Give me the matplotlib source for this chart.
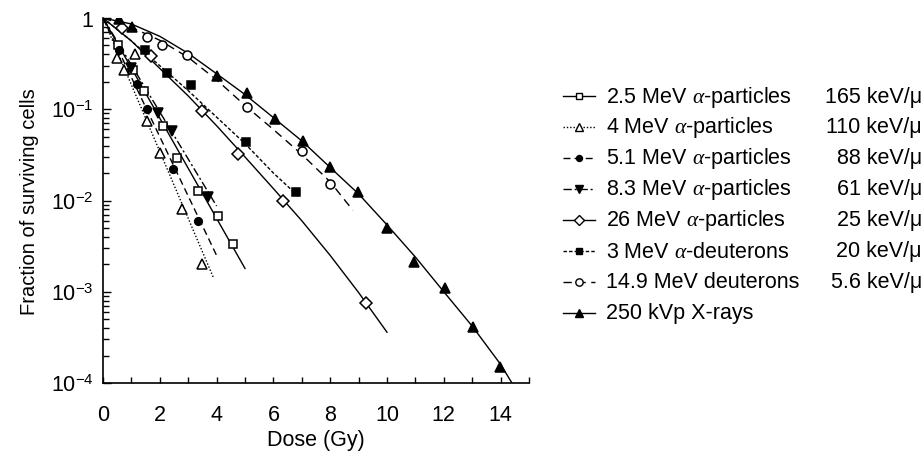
import matplotlib
matplotlib.use("Agg")
import matplotlib.pyplot as plt
from matplotlib.ticker import FixedLocator, FixedFormatter, MultipleLocator, LogLocator, NullFormatter

plt.rcParams['font.family'] = ['Liberation Sans', 'DejaVu Sans']
plt.rcParams['mathtext.fontset'] = 'custom'
plt.rcParams['mathtext.rm'] = 'Liberation Sans'
plt.rcParams['mathtext.it'] = 'Liberation Serif:italic'
plt.rcParams['mathtext.bf'] = 'Liberation Sans:bold'

# measured points (dose in Gy, surviving fraction)
a25_dose = [0.54, 1.05, 1.44, 2.1, 2.6, 3.35, 4.05, 4.58]
a25_surv = [0.5, 0.27, 0.158, 0.066, 0.029, 0.0126, 0.0068, 0.0033]
a4_dose = [0.49, 0.74, 1.13, 1.54, 2.0, 2.77, 3.5]
a4_surv = [0.36, 0.27, 0.4, 0.074, 0.033, 0.0081, 0.002]
a51_dose = [0.55, 1.2, 1.55, 2.47, 3.35]
a51_surv = [0.45, 0.19, 0.1, 0.022, 0.006]
a83_dose = [1.0, 1.93, 2.43, 3.7]
a83_surv = [0.28, 0.09, 0.058, 0.011]
a26_dose = [0.67, 1.68, 3.48, 4.77, 6.35, 9.27]
a26_surv = [0.78, 0.38, 0.095, 0.032, 0.01, 0.00076]
ad3_dose = [1.48, 2.26, 3.1, 5.03, 6.8]
ad3_surv = [0.45, 0.25, 0.185, 0.044, 0.0125]
d149_dose = [1.54, 2.07, 2.95, 5.06, 7.0, 8.0]
d149_surv = [0.62, 0.5, 0.39, 0.105, 0.035, 0.015]
xr_dose = [0.56, 1.02, 4.0, 5.07, 6.06, 7.04, 8.0, 8.98, 10.0, 10.95, 12.04, 13.03, 13.98]
xr_surv = [0.98, 0.8, 0.23, 0.15, 0.079, 0.045, 0.023, 0.0125, 0.005, 0.0021, 0.0011, 0.00041, 0.00015]

# fitted curves
a25_fit_dose = [0, 5.0]
a25_fit_surv = [1, 0.0018]
a4_fit_dose = [0, 3.9]
a4_fit_surv = [1, 0.0014]
a51_fit_dose = [0, 4.0]
a51_fit_surv = [1, 0.0025]
a83_fit_dose = [0, 4.0]
a83_fit_surv = [1, 0.0087]
a26_fit_dose = [0, 1, 2, 3, 4, 5, 6, 7, 8, 9, 10]
a26_fit_surv = [1, 0.56, 0.28, 0.14, 0.066, 0.03, 0.0135, 0.006, 0.0025, 0.00098, 0.00036]
ad3_fit_dose = [0, 1, 2, 3, 4, 5, 6, 6.9]
ad3_fit_surv = [1, 0.56, 0.3, 0.16, 0.082, 0.042, 0.02, 0.011]
d149_fit_dose = [0, 1, 2, 3, 4, 5, 6, 7, 8, 8.8]
d149_fit_surv = [1, 0.79, 0.57, 0.37, 0.21, 0.11, 0.06, 0.032, 0.016, 0.0078]
xr_fit_dose = [0, 1, 2, 3, 4, 5, 6, 7, 8, 9, 10, 11, 12, 13, 14, 14.4]
xr_fit_surv = [1, 0.86, 0.63, 0.41, 0.245, 0.145, 0.081, 0.045, 0.023, 0.0118, 0.0054, 0.0024,
               0.001, 0.00042, 0.00016, 0.0001]

labels = ["2.5 MeV $\\alpha$-particles", "4 MeV $\\alpha$-particles", "5.1 MeV $\\alpha$-particles",
          "8.3 MeV $\\alpha$-particles", "26 MeV $\\alpha$-particles", "3 MeV $\\alpha$-deuterons",
          "14.9 MeV deuterons", "250 kVp X-rays"]
let_labels = ["165 keV/\u03bc", "110 keV/\u03bc", "88 keV/\u03bc", "61 keV/\u03bc",
              "25 keV/\u03bc", "20 keV/\u03bc", "5.6 keV/\u03bc", ""]

y_ticks = [1e-4, 1e-3, 1e-2, 1e-1, 1]
y_ticklabels = ["$10^{-4}$", "$10^{-3}$", "$10^{-2}$", "$10^{-1}$", "1"]

series = [
    (a25_dose, a25_surv, a25_fit_dose, a25_fit_surv, "-", "s", "white", 6),
    (a4_dose, a4_surv, a4_fit_dose, a4_fit_surv, (0, (1, 1.4)), "^", "white", 7),
    (a51_dose, a51_surv, a51_fit_dose, a51_fit_surv, (0, (5, 3)), "o", "black", 5.5),
    (a83_dose, a83_surv, a83_fit_dose, a83_fit_surv, (0, (6, 2, 1.5, 2)), "v", "black", 7),
    (a26_dose, a26_surv, a26_fit_dose, a26_fit_surv, "-", "D", "white", 6.3),
    (ad3_dose, ad3_surv, ad3_fit_dose, ad3_fit_surv, (0, (2.5, 1.5)), "s", "black", 6),
    (d149_dose, d149_surv, d149_fit_dose, d149_fit_surv, (0, (6, 4)), "o", "white", 6.5),
    (xr_dose, xr_surv, xr_fit_dose, xr_fit_surv, "-", "^", "black", 6.5),
]

fig = plt.figure(figsize=(9.24, 4.52), dpi=100)
ax = fig.add_axes([103 / 924, 1 - 384 / 452, 426 / 924, 365 / 452])

for d, s, fd, fs, ls, mk, fc, ms in series:
    ax.plot(fd, fs, color="black", linestyle=ls, linewidth=1.0)
    ax.plot(d, s, linestyle="none", marker=mk, markersize=ms, markerfacecolor=fc,
            markeredgecolor="black", markeredgewidth=1.1, zorder=3)

ax.set_yscale("log")
ax.set_xlim(0, 15)
ax.set_ylim(1e-4, 1)
ax.xaxis.set_major_locator(MultipleLocator(2))
ax.xaxis.set_minor_locator(MultipleLocator(1))
ax.xaxis.set_major_formatter(FixedFormatter([str(v) for v in range(-2, 17, 2)]))
ax.yaxis.set_major_locator(FixedLocator(y_ticks))
ax.yaxis.set_major_formatter(FixedFormatter(y_ticklabels))
ax.yaxis.set_minor_locator(LogLocator(base=10, subs=range(2, 10)))
ax.yaxis.set_minor_formatter(NullFormatter())
ax.tick_params(which="both", direction="in", width=1.0, labelsize=15.5)
ax.tick_params(axis="x", which="both", length=4.5, pad=15)
ax.tick_params(axis="y", which="major", length=5.5, pad=7)
ax.tick_params(axis="y", which="minor", length=4)
for side in ["top", "right"]:
    ax.spines[side].set_visible(False)
for side in ["left", "bottom"]:
    ax.spines[side].set_linewidth(1.2)
ax.set_xlabel("Dose (Gy)", fontsize=15.5, labelpad=3)
ax.set_ylabel("Fraction of surviving cells", fontsize=14.5)
ax.yaxis.set_label_coords(-0.15, 0.5)

# legend drawn by hand, in pixel coordinates
lax = fig.add_axes([0, 0, 1, 1])
lax.set_xlim(0, 924)
lax.set_ylim(452, 0)
lax.axis("off")
for i, (d, s, fd, fs, ls, mk, fc, ms) in enumerate(series):
    y = 97 + 31 * i
    lax.plot([563, 595], [y, y], color="black", linestyle=ls, linewidth=1.0)
    lax.plot([579], [y], linestyle="none", marker=mk, markersize=ms - 1.2, markerfacecolor=fc,
             markeredgecolor="black", markeredgewidth=1.0)
    lax.text(606, y, labels[i], fontsize=15.5, va="center", ha="left")
    lax.text(922, y, let_labels[i], fontsize=15.5, va="center", ha="right")

fig.savefig("out.png", dpi=100)
